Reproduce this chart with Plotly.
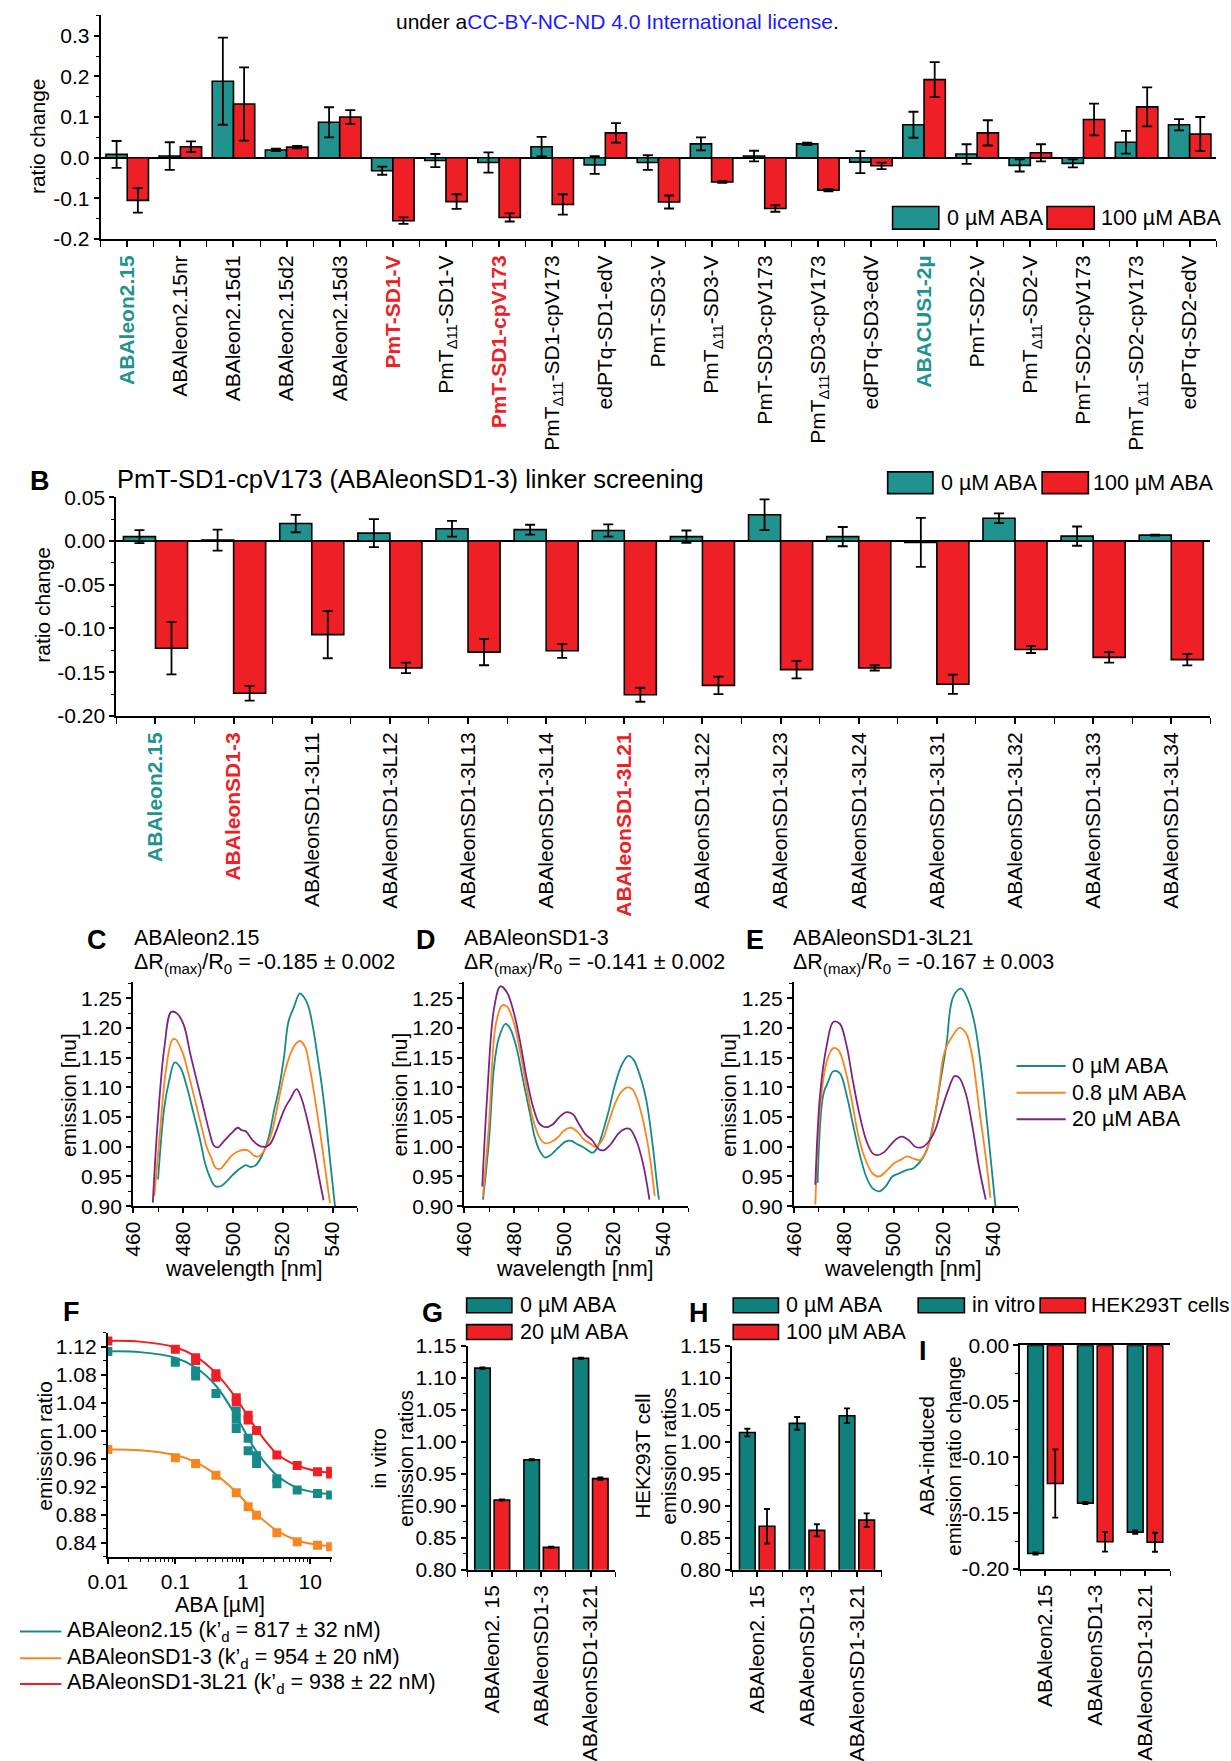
import plotly.graph_objects as go

W, H = 1231, 1761
FONT = "Liberation Sans, Arial, Helvetica, sans-serif"
FS = 21.5
FT = 21
TEAL = "#21938F"
TEAL_DARK = "#10807D"
RED = "#EE2026"
ORANGE = "#F7861E"
PURPLE = "#7D2482"
LTEAL = "#16898A"

# ---------------- Panel A data ----------------
A_LABELS = [
    '<b><span style="color:#21938F">ABAleon2.15</span></b>',
    'ABAleon2.15nr', 'ABAleon2.15d1', 'ABAleon2.15d2', 'ABAleon2.15d3',
    '<b><span style="color:#EE2026">PmT-SD1-V</span></b>',
    'PmT<sub>Δ11</sub>-SD1-V',
    '<b><span style="color:#EE2026">PmT-SD1-cpV173</span></b>',
    'PmT<sub>Δ11</sub>-SD1-cpV173', 'edPTq-SD1-edV',
    'PmT-SD3-V', 'PmT<sub>Δ11</sub>-SD3-V', 'PmT-SD3-cpV173',
    'PmT<sub>Δ11</sub>SD3-cpV173', 'edPTq-SD3-edV',
    '<b><span style="color:#21938F">ABACUS1-2µ</span></b>',
    'PmT-SD2-V', 'PmT<sub>Δ11</sub>-SD2-V', 'PmT-SD2-cpV173',
    'PmT<sub>Δ11</sub>-SD2-cpV173', 'edPTq-SD2-edV',
]
A_ZERO = [0.008, 0.004, 0.188, 0.019, 0.087, -0.032, -0.007, -0.012, 0.027, -0.018,
          -0.012, 0.034, 0.004, 0.034, -0.011, 0.081, 0.009, -0.019, -0.014, 0.038, 0.081]
A_ZERO_ERR = [0.033, 0.034, 0.107, 0.003, 0.037, 0.010, 0.016, 0.025, 0.024, 0.022,
              0.018, 0.016, 0.013, 0.003, 0.027, 0.032, 0.024, 0.015, 0.010, 0.028, 0.014]
A_HUND = [-0.105, 0.027, 0.132, 0.026, 0.100, -0.155, -0.108, -0.147, -0.115, 0.061,
          -0.109, -0.060, -0.125, -0.080, -0.020, 0.192, 0.061, 0.012, 0.094, 0.125, 0.058]
A_HUND_ERR = [0.030, 0.013, 0.090, 0.003, 0.017, 0.008, 0.018, 0.010, 0.025, 0.024,
              0.016, 0.002, 0.008, 0.003, 0.008, 0.043, 0.031, 0.021, 0.039, 0.048, 0.042]
A_YTICKS = [-0.2, -0.1, 0.0, 0.1, 0.2, 0.3]

# ---------------- Panel B data ----------------
B_LABELS = [
    '<b><span style="color:#21938F">ABAleon2.15</span></b>',
    '<b><span style="color:#EE2026">ABAleonSD1-3</span></b>',
    'ABAleonSD1-3L11', 'ABAleonSD1-3L12', 'ABAleonSD1-3L13', 'ABAleonSD1-3L14',
    '<b><span style="color:#EE2026">ABAleonSD1-3L21</span></b>',
    'ABAleonSD1-3L22', 'ABAleonSD1-3L23', 'ABAleonSD1-3L24', 'ABAleonSD1-3L31',
    'ABAleonSD1-3L32', 'ABAleonSD1-3L33', 'ABAleonSD1-3L34',
]
B_ZERO = [0.005, 0.001, 0.020, 0.009, 0.014, 0.013, 0.012, 0.005, 0.030, 0.005,
          -0.0015, 0.026, 0.0056, 0.0067]
B_ZERO_ERR = [0.0075, 0.012, 0.010, 0.016, 0.009, 0.0056, 0.007, 0.007, 0.0176, 0.011,
              0.028, 0.0056, 0.011, 0.0005]
B_HUND = [-0.1225, -0.174, -0.107, -0.145, -0.127, -0.1255, -0.1757, -0.165, -0.147,
          -0.145, -0.1637, -0.124, -0.133, -0.1356]
B_HUND_ERR = [0.030, 0.0085, 0.027, 0.006, 0.015, 0.008, 0.008, 0.010, 0.010, 0.003,
              0.011, 0.004, 0.006, 0.0066]
B_YTICKS = [-0.20, -0.15, -0.10, -0.05, 0.00, 0.05]

# ---------------- Panels C-E spectra ----------------
C_TEAL_WL = [470.0, 472.5, 474.4, 476.7, 479.0, 481.6, 484.3, 486.9, 488.9, 490.8, 492.8, 495.4,
             498.0, 501.3, 503.5, 505.2, 507.0, 509.2, 511.8, 514.4, 516.5, 518.6, 520.5, 522.3,
             524.5, 526.9, 528.5, 530.2, 532.2, 534.1, 535.8, 537.4, 539.2, 541.0]
C_TEAL = [0.945, 1.066, 1.110, 1.142, 1.133, 1.100, 1.055, 1.011, 0.972, 0.949, 0.934, 0.934,
          0.944, 0.958, 0.965, 0.969, 0.966, 0.969, 0.986, 1.016, 1.060, 1.100, 1.150, 1.210,
          1.235, 1.258, 1.252, 1.238, 1.200, 1.149, 1.100, 1.044, 0.970, 0.900]
C_ORANGE_WL = [468.5, 470.5, 473.1, 475.7, 477.0, 479.7, 482.3, 484.9, 487.5, 489.5, 491.5, 493.0,
               495.0, 497.0, 499.5, 502.0, 504.5, 506.5, 508.5, 510.5, 512.0, 514.0, 516.0, 518.0,
               520.5, 523.0, 525.0, 526.9, 529.0, 531.0, 533.0, 535.0, 537.0, 539.0]
C_ORANGE = [0.917, 1.011, 1.127, 1.180, 1.181, 1.160, 1.121, 1.077, 1.033, 1.000, 0.980, 0.965,
            0.963, 0.972, 0.985, 0.992, 0.995, 0.993, 0.985, 0.984, 0.990, 1.005, 1.030, 1.070,
            1.120, 1.155, 1.172, 1.178, 1.168, 1.130, 1.080, 1.025, 0.965, 0.905]
C_PURPLE_WL = [467.9, 469.8, 472.5, 475.3, 477.7, 480.3, 483.0, 485.6, 488.2, 490.8, 492.4, 494.1,
               496.1, 499.3, 502.0, 503.5, 505.2, 507.9, 510.5, 513.0, 515.0, 517.0, 519.0, 521.0,
               523.0, 525.6, 527.5, 530.2, 532.8, 534.8, 536.4]
C_PURPLE = [0.906, 1.038, 1.166, 1.227, 1.224, 1.205, 1.155, 1.110, 1.066, 1.022, 1.002, 0.999,
            1.008, 1.022, 1.032, 1.028, 1.026, 1.011, 1.002, 1.000, 1.005, 1.022, 1.045, 1.066,
            1.080, 1.097, 1.082, 1.040, 0.989, 0.944, 0.910]

D_TEAL_WL = [467.5, 469.9, 471.9, 473.8, 476.5, 478.4, 481.0, 483.7, 486.4, 488.3, 490.3, 492.3,
             494.3, 496.2, 498.2, 500.8, 503.0, 505.0, 507.5, 510.0, 511.5, 513.4, 516.0, 518.0,
             520.6, 523.3, 525.9, 527.9, 530.5, 533.2, 535.8, 537.1, 538.2]
D_TEAL = [0.911, 1.011, 1.133, 1.182, 1.207, 1.199, 1.166, 1.110, 1.055, 1.016, 0.993, 0.982,
          0.985, 0.992, 1.000, 1.009, 1.010, 1.005, 1.000, 0.993, 0.990, 0.998, 1.030, 1.060,
          1.105, 1.138, 1.153, 1.147, 1.121, 1.077, 0.999, 0.950, 0.911]
D_ORANGE_WL = [467.5, 469.9, 472.6, 475.2, 477.1, 479.8, 482.4, 485.0, 487.7, 490.3, 492.3, 494.9,
               497.6, 500.2, 502.8, 505.5, 508.1, 510.7, 512.6, 515.3, 517.9, 520.5, 523.0, 525.5,
               527.5, 529.5, 531.5, 533.5, 535.0, 536.5]
D_ORANGE = [0.917, 1.038, 1.205, 1.238, 1.236, 1.210, 1.160, 1.100, 1.044, 1.015, 1.006, 1.008,
            1.016, 1.028, 1.032, 1.025, 1.012, 1.005, 1.000, 1.010, 1.040, 1.072, 1.092, 1.100,
            1.097, 1.080, 1.050, 1.010, 0.970, 0.917]
D_PURPLE_WL = [467.2, 469.2, 471.9, 474.5, 477.1, 479.8, 482.4, 485.0, 487.7, 490.3, 493.0, 495.6,
               498.2, 500.8, 503.5, 506.1, 508.7, 511.4, 514.0, 516.0, 518.6, 521.9, 524.5, 526.5,
               529.1, 531.8, 534.4]
D_PURPLE = [0.933, 1.088, 1.232, 1.270, 1.260, 1.227, 1.177, 1.116, 1.066, 1.038, 1.033, 1.038,
            1.050, 1.058, 1.055, 1.038, 1.021, 1.011, 0.996, 0.994, 1.003, 1.022, 1.030, 1.030,
            1.011, 0.972, 0.911]

E_TEAL_WL = [469.5, 471.8, 473.8, 475.8, 478.4, 481.1, 483.7, 486.3, 489.0, 491.6, 494.2, 496.8,
             499.5, 502.1, 505.4, 508.0, 510.7, 513.3, 515.9, 518.6, 521.2, 523.9, 527.1, 529.7,
             532.4, 535.0, 537.6, 540.9]
E_TEAL = [0.939, 1.088, 1.110, 1.127, 1.124, 1.088, 1.038, 0.989, 0.950, 0.930, 0.925, 0.933,
          0.950, 0.955, 0.961, 0.964, 0.975, 0.994, 1.038, 1.105, 1.171, 1.252, 1.266, 1.249,
          1.210, 1.138, 1.038, 0.900]
E_ORANGE_WL = [468.6, 470.5, 473.2, 475.8, 477.8, 480.4, 483.0, 485.7, 488.3, 491.6, 494.2, 496.8,
               500.1, 502.8, 505.4, 508.0, 510.7, 512.6, 515.3, 517.9, 520.5, 523.9, 526.4, 529.1,
               531.7, 534.3, 537.0, 538.9]
E_ORANGE = [0.903, 1.066, 1.144, 1.166, 1.163, 1.133, 1.083, 1.022, 0.983, 0.955, 0.950, 0.958,
            0.972, 0.978, 0.984, 0.980, 0.978, 0.989, 1.022, 1.088, 1.160, 1.188, 1.200, 1.191,
            1.149, 1.066, 0.983, 0.914]
E_PURPLE_WL = [468.6, 470.5, 473.2, 475.8, 478.4, 481.1, 483.7, 486.3, 489.0, 491.6, 493.6, 496.2,
               498.8, 501.4, 503.4, 506.1, 508.7, 511.3, 514.0, 516.6, 519.2, 521.8, 524.5, 526.4,
               529.1, 531.7, 534.3, 537.0]
E_PURPLE = [0.936, 1.088, 1.171, 1.210, 1.207, 1.171, 1.110, 1.055, 1.011, 0.989, 0.986, 0.991,
            1.003, 1.014, 1.017, 1.011, 1.000, 0.999, 1.008, 1.027, 1.061, 1.094, 1.119, 1.116,
            1.088, 1.033, 0.966, 0.911]
SPEC_YTICKS = [0.90, 0.95, 1.00, 1.05, 1.10, 1.15, 1.20, 1.25]
SPEC_XTICKS = [460, 480, 500, 520, 540]

# ---------------- Panel F titration ----------------
F_TEAL_X = [0.01, 0.1, 0.2, 0.2, 0.4, 0.8, 0.8, 0.8, 1.2, 1.2, 1.6, 1.6, 3.2, 3.2, 6.4, 12.8, 20]
F_TEAL_Y = [1.113, 1.0975, 1.085, 1.078, 1.053, 1.028, 1.016, 1.003, 0.989, 0.971, 0.964, 0.953,
            0.931, 0.924, 0.915, 0.910, 0.908]
F_RED_X = [0.01, 0.1, 0.2, 0.2, 0.4, 0.4, 0.8, 0.8, 1.2, 1.2, 1.6, 3.2, 6.4, 12.8, 20, 20]
F_RED_Y = [1.128, 1.116, 1.104, 1.100, 1.081, 1.076, 1.047, 1.041, 1.022, 1.015, 1.000, 0.965,
           0.950, 0.941, 0.942, 0.938]
F_ORANGE_X = [0.01, 0.1, 0.2, 0.4, 0.8, 1.2, 1.6, 3.2, 6.4, 12.8, 20]
F_ORANGE_Y = [0.973, 0.961, 0.953, 0.936, 0.911, 0.891, 0.879, 0.854, 0.841, 0.836, 0.834]
F_FIT_X = [0.01, 0.03, 0.1, 0.2, 0.4, 0.8, 1.2, 1.6, 3.2, 6.4, 12.8, 20]
F_FIT_TEAL = [1.113, 1.112, 1.104, 1.090, 1.064, 1.020, 0.990, 0.970, 0.936, 0.918, 0.911, 0.909]
F_FIT_RED = [1.128, 1.127, 1.119, 1.106, 1.082, 1.046, 1.020, 1.002, 0.967, 0.950, 0.942, 0.940]
F_FIT_ORANGE = [0.973, 0.972, 0.965, 0.955, 0.937, 0.912, 0.894, 0.881, 0.857, 0.843, 0.837, 0.835]
F_YTICKS = [0.84, 0.88, 0.92, 0.96, 1.00, 1.04, 1.08, 1.12]
F_XTICKS = [0.01, 0.1, 1, 10]
F_XTICKTEXT = ["0.01", "0.1", "1", "10"]
F_NAMES = ["ABAleon2.15 (k’<sub>d</sub> = 817 ± 32 nM)",
           "ABAleonSD1-3 (k’<sub>d</sub> = 954 ± 20 nM)",
           "ABAleonSD1-3L21 (k’<sub>d</sub> = 938 ± 22 nM)"]

# ---------------- Panels G-I ----------------
GHI_LABELS_GH = ["ABAleon2. 15", "ABAleonSD1-3", "ABAleonSD1-3L21"]
GHI_LABELS_I = ["ABAleon2.15", "ABAleonSD1-3", "ABAleonSD1-3L21"]
G_ZERO = [1.1155, 0.972, 1.131]
G_ZERO_ERR = [0.001, 0.001, 0.001]
G_TWENTY = [0.909, 0.835, 0.9425]
G_TWENTY_ERR = [0.001, 0.001, 0.002]
H_ZERO = [1.0146, 1.029, 1.041]
H_ZERO_ERR = [0.006, 0.010, 0.0115]
H_HUND = [0.868, 0.8616, 0.8776]
H_HUND_ERR = [0.027, 0.0095, 0.0105]
I_VITRO = [-0.186, -0.141, -0.167]
I_VITRO_ERR = [0.001, 0.001, 0.0015]
I_CELLS = [-0.1235, -0.1756, -0.176]
I_CELLS_ERR = [0.0305, 0.0088, 0.0085]
GH_YTICKS = [0.80, 0.85, 0.90, 0.95, 1.00, 1.05, 1.10, 1.15]
I_YTICKS = [-0.20, -0.15, -0.10, -0.05, 0.00]

# ================= figure building =================
fig = go.Figure()
layout_axes = {}


def ids(n):
    return ("x" if n == 1 else f"x{n}", "y" if n == 1 else f"y{n}")


def set_axes(n, xdom, ydom, xcfg, ycfg):
    xa, ya = ids(n)
    base = dict(showline=True, linecolor="black", linewidth=2, ticks="outside", ticklen=5,
                tickwidth=1.5, tickcolor="black", showgrid=False, zeroline=False,
                tickfont=dict(family=FONT, size=FT, color="black"), fixedrange=True)
    xd = dict(base)
    xd.update(domain=[xdom[0] / W, xdom[1] / W], anchor=ya)
    xd.update(xcfg)
    yd = dict(base)
    yd.update(domain=[1 - ydom[1] / H, 1 - ydom[0] / H], anchor=xa)
    yd.update(ycfg)
    layout_axes["xaxis" if n == 1 else f"xaxis{n}"] = xd
    layout_axes["yaxis" if n == 1 else f"yaxis{n}"] = yd


def minor(dt, t0=0, ln=3):
    return dict(ticks="outside", ticklen=ln, tickwidth=1.2, tickcolor="black", dtick=dt, tick0=t0)


def bars(n, vals, errs, color, width, offset, capw=5):
    xa, ya = ids(n)
    fig.add_trace(go.Bar(
        x=list(range(len(vals))), y=vals, xaxis=xa, yaxis=ya, width=width, offset=offset,
        marker=dict(color=color, line=dict(color="black", width=1.6)),
        error_y=dict(type="data", array=errs, color="black", thickness=1.8, width=capw),
        showlegend=False, hoverinfo="skip"))


def line(n, x, y, color, width=1.8, shape="linear"):
    xa, ya = ids(n)
    fig.add_trace(go.Scatter(x=x, y=y, xaxis=xa, yaxis=ya, mode="lines",
                             line=dict(color=color, width=width, shape=shape),
                             showlegend=False, hoverinfo="skip"))


def fmt(vals, f):
    return [f.format(v) for v in vals]


# ---- A ----
bars(1, A_ZERO, A_ZERO_ERR, TEAL, 0.4, -0.4)
bars(1, A_HUND, A_HUND_ERR, RED, 0.4, 0.0)
set_axes(1, (82, 1216), (3.4, 230),
         dict(range=[-0.5, len(A_LABELS) - 0.5], tickmode="array",
              tickvals=list(range(len(A_LABELS))), ticktext=A_LABELS, tickangle=-90,
              minor=minor(1, -0.5, 6), ticklen=6),
         dict(range=[-0.2, 0.35], tickmode="array", tickvals=A_YTICKS,
              ticktext=fmt(A_YTICKS, "{:.1f}"), minor=minor(0.05),
              zeroline=True, zerolinecolor="black", zerolinewidth=2))

# ---- B ----
bars(2, B_ZERO, B_ZERO_ERR, TEAL, 0.41, -0.41)
bars(2, B_HUND, B_HUND_ERR, RED, 0.41, 0.0)
set_axes(2, (98, 1210), (491.7, 713.3),
         dict(range=[-0.5, len(B_LABELS) - 0.5], tickmode="array",
              tickvals=list(range(len(B_LABELS))), ticktext=B_LABELS, tickangle=-90,
              minor=minor(1, -0.5, 6), ticklen=6),
         dict(range=[-0.2, 0.05], tickmode="array", tickvals=B_YTICKS,
              ticktext=fmt(B_YTICKS, "{:.2f}"), minor=minor(0.025),
              zeroline=True, zerolinecolor="black", zerolinewidth=2))

# ---- C, D, E ----
spec_sets = [
    (3, (115, 343), [(C_TEAL_WL, C_TEAL), (C_ORANGE_WL, C_ORANGE), (C_PURPLE_WL, C_PURPLE)]),
    (4, (451.7, 679.3), [(D_TEAL_WL, D_TEAL), (D_ORANGE_WL, D_ORANGE), (D_PURPLE_WL, D_PURPLE)]),
    (5, (786.7, 1014.6), [(E_TEAL_WL, E_TEAL), (E_ORANGE_WL, E_ORANGE), (E_PURPLE_WL, E_PURPLE)]),
]
for n, xdom, series in spec_sets:
    for (wl, v), col in zip(series, [LTEAL, ORANGE, PURPLE]):
        line(n, wl, v, col, 1.8, "spline")
    set_axes(n, xdom, (983, 1210),
             dict(range=[460, 550], tickmode="array", tickvals=SPEC_XTICKS,
                  ticktext=[str(t) for t in SPEC_XTICKS], tickangle=-90, minor=minor(10, 460, 4)),
             dict(range=[0.9, 1.277], tickmode="array", tickvals=SPEC_YTICKS,
                  ticktext=fmt(SPEC_YTICKS, "{:.2f}"), minor=minor(0.025, 0.9, 3)))

# ---- F ----
line(6, F_FIT_X, F_FIT_TEAL, LTEAL, 2, "spline")
line(6, F_FIT_X, F_FIT_ORANGE, ORANGE, 2, "spline")
line(6, F_FIT_X, F_FIT_RED, RED, 2, "spline")
for xs, ys, col in [(F_TEAL_X, F_TEAL_Y, LTEAL), (F_ORANGE_X, F_ORANGE_Y, ORANGE), (F_RED_X, F_RED_Y, RED)]:
    fig.add_trace(go.Scatter(x=xs, y=ys, xaxis="x6", yaxis="y6", mode="markers",
                             marker=dict(symbol="square", size=9, color=col),
                             showlegend=False, hoverinfo="skip"))
set_axes(6, (89.3, 317), (1338, 1565),
         dict(type="log", range=[-2, 1.32], tickmode="array", tickvals=F_XTICKS,
              ticktext=F_XTICKTEXT, minor=dict(ticks="outside", ticklen=3, tickwidth=1.2,
                                                tickcolor="black", dtick="D1")),
         dict(range=[0.82, 1.14], tickmode="array", tickvals=F_YTICKS,
              ticktext=fmt(F_YTICKS, "{:.2f}"), minor=minor(0.02, 0.82, 3)))

# ---- G, H, I ----
bars(7, G_ZERO, G_ZERO_ERR, TEAL_DARK, 0.315, -0.355, 3)
bars(7, G_TWENTY, G_TWENTY_ERR, RED, 0.315, 0.04, 3)
bars(8, H_ZERO, H_ZERO_ERR, TEAL_DARK, 0.315, -0.355, 3)
bars(8, H_HUND, H_HUND_ERR, RED, 0.315, 0.04, 3)
bars(9, I_VITRO, I_VITRO_ERR, TEAL_DARK, 0.315, -0.355, 3)
bars(9, I_CELLS, I_CELLS_ERR, RED, 0.315, 0.04, 3)
for n, xdom, labels in [(7, (455, 605), GHI_LABELS_GH), (8, (724, 876), GHI_LABELS_GH)]:
    set_axes(n, xdom, (1351.7, 1578.3),
             dict(range=[-0.5, 2.5], tickmode="array", tickvals=[0, 1, 2], ticktext=labels,
                  tickangle=-90, minor=minor(1, -0.5, 5)),
             dict(range=[0.80, 1.15], tickmode="array", tickvals=GH_YTICKS,
                  ticktext=fmt(GH_YTICKS, "{:.2f}"), minor=minor(0.025, 0.8, 3)))
set_axes(9, (1017, 1169), (1351, 1577.7),
         dict(range=[-0.5, 2.5], tickmode="array", tickvals=[0, 1, 2], ticktext=GHI_LABELS_I,
              tickangle=-90, minor=minor(1, -0.5, 5), mirror=True),
         dict(range=[-0.20, 0.0], tickmode="array", tickvals=I_YTICKS,
              ticktext=fmt(I_YTICKS, "{:.2f}"), minor=minor(0.025, -0.2, 3)))

# ================= annotations & legends =================
ann = []
shapes = []


def text(t, x, y, size=FS, xanchor="left", angle=0, color="black"):
    ann.append(dict(text=t, x=x / W, y=1 - y / H, xref="paper", yref="paper", showarrow=False,
                    xanchor=xanchor, yanchor="middle", textangle=angle,
                    font=dict(family=FONT, size=size, color=color)))


def rect(x0, y0, x1, y1, color):
    shapes.append(dict(type="rect", xref="paper", yref="paper", x0=x0 / W, x1=x1 / W,
                       y0=1 - y1 / H, y1=1 - y0 / H, fillcolor=color,
                       line=dict(color="black", width=1.6)))


def hline(x0, x1, y, color, width=2):
    shapes.append(dict(type="line", xref="paper", yref="paper", x0=x0 / W, x1=x1 / W,
                       y0=1 - y / H, y1=1 - y / H, line=dict(color=color, width=width)))


# header
text('under a<span style="color:#1a1aff">CC-BY-NC-ND 4.0 International license</span>.',
     607, 10, 21, "center")

# A
text("ratio change", 18, 126, 21, "center", -90)
rect(887, 197, 934, 220, TEAL); text("0 µM ABA", 940, 209)
rect(1044, 197, 1092, 220, RED); text("100 µM ABA", 1097, 209)

# B
text("<b>B</b>", 8, 475, 27)
text("PmT-SD1-cpV173 (ABAleonSD1-3) linker screening", 97, 473, 25.5)
text("ratio change", 23, 601, 21, "center", -90)
rect(882, 466, 928, 488, TEAL); text("0 µM ABA", 934, 477)
rect(1039, 466, 1086, 488, RED); text("100 µM ABA", 1089, 477)

# C-E titles
for letter, lx, name, tx, dr, ytx in [
        ("C", 66, "ABAleon2.15", 114, "-0.185 ± 0.002", 49),
        ("D", 401, "ABAleonSD1-3", 449, "-0.141 ± 0.002", 386),
        ("E", 736, "ABAleonSD1-3L21", 784, "-0.167 ± 0.003", 720)]:
    text(f"<b>{letter}</b>", lx, 940, 27)
    text(name, tx, 938)
    text(f"ΔR<sub>(max)</sub>/R<sub>0</sub> = {dr}", tx, 964)
    text("emission [nu]", ytx, 1097, 21, "center", -90)
for cx in (228, 564, 898):
    text("wavelength [nm]", cx, 1274, FS, "center")
for yy, col, lab in [(1068, LTEAL, "0 µM ABA"), (1095, ORANGE, "0.8 µM ABA"), (1122, PURPLE, "20 µM ABA")]:
    hline(1013, 1063, yy, col, 2)
    text(lab, 1067, yy)

# F
text("<b>F</b>", 42, 1317, 27)
text("emission ratio", 24, 1453, 21, "center", -90)
text("ABA [µM]", 203, 1614, FS, "center")
for yy, col, lab in [(1641, LTEAL, F_NAMES[0]), (1668, ORANGE, F_NAMES[1]), (1694, RED, F_NAMES[2])]:
    hline(0, 42, yy, col, 2)
    text(lab, 46, yy)

# G
text("<b>G</b>", 407, 1318, 27)
text("in vitro<br>emission ratios", 378, 1465, 20.5, "center", -90)
rect(454, 1303, 500, 1318, TEAL_DARK); text("0 µM ABA", 506, 1310)
rect(454, 1330, 500, 1345, RED); text("20 µM ABA", 506, 1337)
# H
text("<b>H</b>", 678, 1318, 27)
text("HEK293T cell<br>emission ratios", 646, 1463, 20.5, "center", -90)
rect(725, 1303, 771, 1318, TEAL_DARK); text("0 µM ABA", 777, 1310)
rect(725, 1330, 771, 1345, RED); text("100 µM ABA", 777, 1337)
# I
text("<b>I</b>", 912, 1357, 27)
text("ABA-induced<br>emission ratio change", 935, 1463, 20.5, "center", -90)
rect(913, 1303, 960, 1318, TEAL_DARK); text("in vitro", 966, 1310)
rect(1037, 1303, 1083, 1318, RED); text("HEK293T cells", 1087, 1310, 21)

fig.update_layout(
    width=W, height=H, margin=dict(l=0, r=0, t=0, b=0),
    paper_bgcolor="white", plot_bgcolor="rgba(0,0,0,0)",
    barmode="overlay", showlegend=False,
    font=dict(family=FONT, size=FS, color="black"),
    annotations=ann, shapes=shapes, **layout_axes)

fig.write_html("out.html")
